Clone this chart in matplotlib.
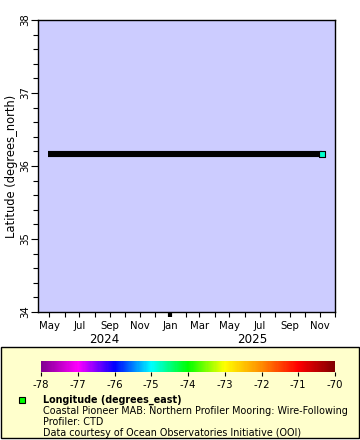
import matplotlib
matplotlib.use('Agg')
import matplotlib.pyplot as plt
import matplotlib.dates as mdates
from matplotlib.colors import LinearSegmentedColormap, Normalize
from matplotlib.patches import Rectangle
import datetime as dt

plt.rcParams['axes.unicode_minus'] = False

# data
times = [dt.datetime(2024, 4, 29), dt.datetime(2025, 11, 4)]
lats = [36.17, 36.17]
last_lon = -74.8
x_range = [dt.datetime(2024, 4, 7), dt.datetime(2025, 12, 1)]
y_range = [34, 38]
lon_range = [-78, -70]
cbar_colors = ['#800090', '#ff00ff', '#0000ff', '#00ffff', '#00ff00',
               '#ffff00', '#ff8c00', '#ff0000', '#800000']
legend_lines = ['Coastal Pioneer MAB: Northern Profiler Mooring: Wire-Following',
                'Profiler: CTD',
                'Data courtesy of Ocean Observatories Initiative (OOI)']

W, H = 360, 440
fs = 7.3
lfs = 6.9
fig = plt.figure(figsize=(W / 100, H / 100), dpi=100)

def px_axes(x0, y0, x1, y1):
    return fig.add_axes([x0 / W, 1 - y1 / H, (x1 - x0) / W, (y1 - y0) / H])

cmap = LinearSegmentedColormap.from_list('rb', cbar_colors)
norm = Normalize(*lon_range)

ax = px_axes(37.5, 20, 335, 312)
ax.set_facecolor('#ccccff')
ax.plot(times, lats, color='black', lw=4.4, solid_capstyle='butt', zorder=2)
ax.scatter(times[-1:], lats[-1:], c=[last_lon], cmap=cmap, norm=norm,
           marker='s', s=22, edgecolors='black', linewidths=0.8, zorder=3)
ax.set_xlim(x_range)
ax.set_ylim(y_range)

ax.xaxis.set_major_locator(mdates.MonthLocator(bymonth=[1, 3, 5, 7, 9, 11]))
ax.xaxis.set_minor_locator(mdates.MonthLocator())
ax.xaxis.set_major_formatter(mdates.DateFormatter('%b'))
ax.yaxis.set_major_locator(plt.MultipleLocator(1))
ax.yaxis.set_minor_locator(plt.MultipleLocator(0.2))
ax.tick_params(which='both', direction='out', length=3.5, width=0.8,
               labelsize=fs, pad=2)
ax.tick_params(axis='x', which='major', pad=3)
ax.tick_params(axis='y', which='major', length=5, pad=0.5)
for lab in ax.get_yticklabels():
    lab.set_rotation(90)
    lab.set_va('center')
for loc, tick in zip(ax.xaxis.get_majorticklocs(), ax.xaxis.get_major_ticks()):
    if mdates.num2date(loc).month == 1:
        tick.tick1line.set_markeredgewidth(3)
for s in ax.spines.values():
    s.set_linewidth(1)
ax.set_ylabel('Latitude (degrees_north)', fontsize=fs + 1)
ax.yaxis.set_label_coords(-0.066, 0.5)

jan = dt.datetime(2025, 1, 1)
for yr, a, b in [('2024', x_range[0], jan), ('2025', jan, x_range[1])]:
    mid = a + (b - a) / 2
    ax.text(mid, -0.093, yr, transform=ax.get_xaxis_transform(),
            ha='center', va='center', fontsize=fs + 1.3)

# legend box
fig.patches.append(Rectangle((1 / W, 1 - 438 / H), 358 / W, 91 / H,
                             transform=fig.transFigure, facecolor='#ffffcc',
                             edgecolor='black', lw=1, zorder=0))

cax = px_axes(41, 361, 335, 372)
cb = fig.colorbar(plt.cm.ScalarMappable(norm=norm, cmap=cmap), cax=cax,
                  orientation='horizontal')
cb.set_ticks(range(lon_range[0], lon_range[1] + 1))
cb.outline.set_visible(False)
cax.tick_params(length=3, width=0.8, labelsize=fs, pad=2.5)
cax.set_zorder(2)

fig.patches.append(Rectangle((19 / W, 1 - 403 / H), 6 / W, 6 / H,
                             transform=fig.transFigure, facecolor='#00ff00',
                             edgecolor='black', lw=0.8, zorder=2))
fig.text(43 / W, 1 - 400 / H, 'Longitude (degrees_east)', fontsize=lfs,
         fontweight='bold', va='center')
for i, line in enumerate(legend_lines):
    fig.text(43 / W, 1 - (411 + 11 * i) / H, line, fontsize=lfs, va='center')

fig.savefig('out.png', dpi=100)
